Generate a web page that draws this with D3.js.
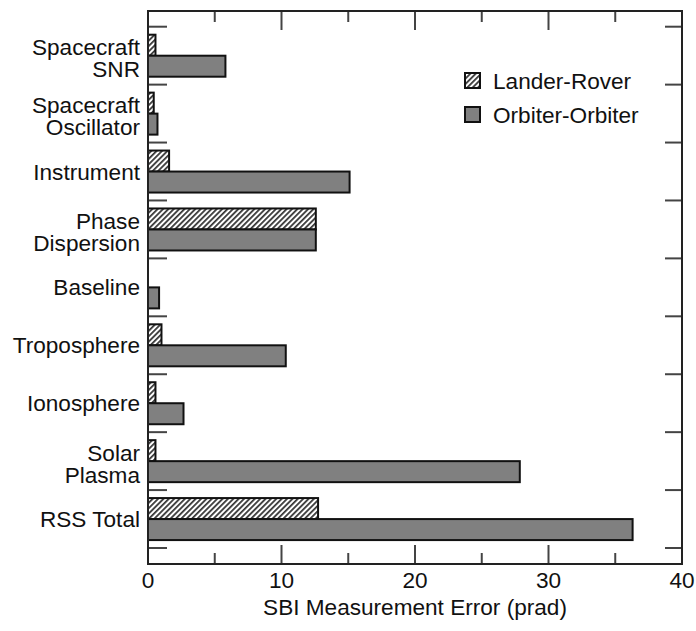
<!DOCTYPE html>
<html>
<head>
<meta charset="utf-8">
<script src="https://cdn.jsdelivr.net/npm/d3@7"></script>
<style>
  html, body { margin: 0; padding: 0; background: #fff; }
  svg { display: block; }
  text { font-family: "Liberation Sans", Arial, Helvetica, sans-serif; fill: #111; }
</style>
</head>
<body>
<svg id="chart" width="696" height="631"></svg>
<script>
const categories = [
  ["Spacecraft", "SNR"],
  ["Spacecraft", "Oscillator"],
  ["Instrument"],
  ["Phase", "Dispersion"],
  ["Baseline"],
  ["Troposphere"],
  ["Ionosphere"],
  ["Solar", "Plasma"],
  ["RSS Total"]
];
const seriesNames = ["Lander-Rover", "Orbiter-Orbiter"];
const landerRover   = [0.56, 0.43, 1.58, 12.57, null, 1.01, 0.56, 0.56, 12.74];
const orbiterOrbiter = [5.8, 0.71, 15.1, 12.57, 0.83, 10.32, 2.66, 27.85, 36.3];
const xMajorTicks = [0, 10, 20, 30, 40];
const xMinorTicks = [5, 15, 25, 35];
const xTitle = "SBI Measurement Error (prad)";

const svg = d3.select("#chart");
const L = 148, R = 682, T = 11, B = 564;
const FS = 22.6;
const catKeys = categories.map(c => c.join(" "));

const x = d3.scaleLinear().domain([0, 40]).range([L, R]);
const y = d3.scaleBand().domain(catKeys).range([26.7, 548]).padding(0);
const ys = d3.scaleBand().domain(seriesNames).range([8, 50]).padding(0);

const defs = svg.append("defs");
const pat = defs.append("pattern")
  .attr("id", "hatch")
  .attr("patternUnits", "userSpaceOnUse")
  .attr("width", 3.8).attr("height", 3.8)
  .attr("patternTransform", "rotate(45)");
pat.append("rect").attr("width", 3.8).attr("height", 3.8).attr("fill", "#fff");
pat.append("line").attr("x1", 0.9).attr("y1", 0).attr("x2", 0.9).attr("y2", 3.8)
  .attr("stroke", "#111").attr("stroke-width", 1.5);

const fills = { "Lander-Rover": "url(#hatch)", "Orbiter-Orbiter": "#808080" };
const seriesData = { "Lander-Rover": landerRover, "Orbiter-Orbiter": orbiterOrbiter };

// bars
const bars = [];
catKeys.forEach((k, i) => {
  seriesNames.forEach(s => {
    const v = seriesData[s][i];
    if (v != null) bars.push({ k, s, v });
  });
});
svg.append("g").selectAll("rect").data(bars).join("rect")
  .attr("x", x(0))
  .attr("y", d => y(d.k) + ys(d.s))
  .attr("width", d => x(d.v) - x(0))
  .attr("height", ys.bandwidth())
  .attr("fill", d => fills[d.s])
  .attr("stroke", "#111")
  .attr("stroke-width", 2);

// ticks
const tickColor = "#444";
const yTicks = catKeys.map(k => y(k)).concat([y.range()[1]]);
const tg = svg.append("g").attr("stroke", tickColor).attr("stroke-width", 2);
yTicks.forEach(v => {
  tg.append("line").attr("x1", L).attr("x2", L + 19).attr("y1", v).attr("y2", v);
  tg.append("line").attr("x1", R - 17).attr("x2", R).attr("y1", v).attr("y2", v);
});
xMajorTicks.forEach(v => {
  tg.append("line").attr("x1", x(v)).attr("x2", x(v)).attr("y1", B).attr("y2", B - 19);
  tg.append("line").attr("x1", x(v)).attr("x2", x(v)).attr("y1", T).attr("y2", T + 19);
});
xMinorTicks.forEach(v => {
  tg.append("line").attr("x1", x(v)).attr("x2", x(v)).attr("y1", B).attr("y2", B - 11);
  tg.append("line").attr("x1", x(v)).attr("x2", x(v)).attr("y1", T).attr("y2", T + 11);
});

// frame
svg.append("rect").attr("x", L).attr("y", T).attr("width", R - L).attr("height", B - T)
  .attr("fill", "none").attr("stroke", "#222").attr("stroke-width", 2);

// x tick labels
svg.append("g").selectAll("text").data(xMajorTicks).join("text")
  .attr("x", d => x(d)).attr("y", 588)
  .attr("text-anchor", "middle").attr("font-size", FS)
  .text(d => d);

svg.append("text").attr("x", (L + R) / 2).attr("y", 615)
  .attr("text-anchor", "middle").attr("font-size", FS).text(xTitle);

// category labels
const lg = svg.append("g");
categories.forEach((lines, i) => {
  const cy = y(catKeys[i]) + y.bandwidth() / 2;
  const t = lg.append("text").attr("text-anchor", "end").attr("font-size", FS);
  if (lines.length === 1) {
    t.append("tspan").attr("x", 140).attr("y", cy + 8).text(lines[0]);
  } else {
    t.append("tspan").attr("x", 140).attr("y", cy - 0.5).text(lines[0]);
    t.append("tspan").attr("x", 140).attr("y", cy + 21.5).text(lines[1]);
  }
});

// legend
const leg = svg.append("g");
seriesNames.forEach((s, i) => {
  const ty = 73 + i * 34;
  leg.append("rect").attr("x", 465).attr("y", ty).attr("width", 15).attr("height", 15)
    .attr("fill", fills[s]).attr("stroke", "#111").attr("stroke-width", 2);
  leg.append("text").attr("x", 493).attr("y", ty + 15.5).attr("font-size", FS).text(s);
});
</script>
</body>
</html>
